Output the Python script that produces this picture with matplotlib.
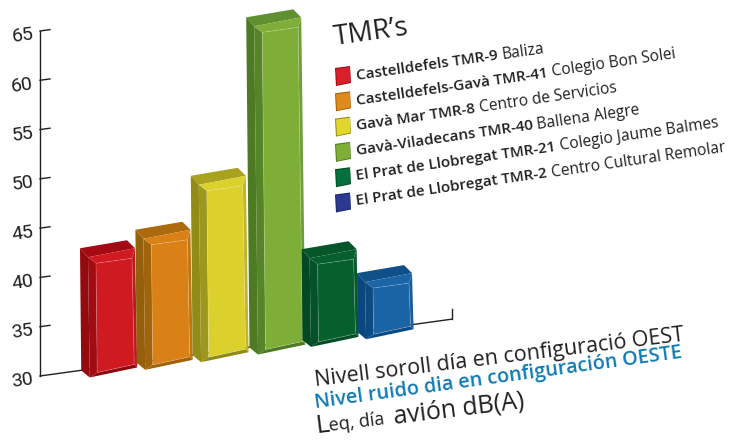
import numpy as np
import matplotlib
matplotlib.use("Agg")
import matplotlib.pyplot as plt
from matplotlib.patches import Polygon
from matplotlib.transforms import Affine2D, IdentityTransform, ScaledTranslation

stations = ["Castelldefels TMR-9", "Castelldefels-Gavà TMR-41", "Gavà Mar TMR-8",
            "Gavà-Viladecans TMR-40", "El Prat de Llobregat TMR-21", "El Prat de Llobregat TMR-2"]
places = ["Baliza", "Colegio Bon Solei", "Centro de Servicios",
          "Ballena Alegre", "Colegio Jaume Balmes", "Centro Cultural Remolar"]
values = [42.4, 43.5, 48.2, 63.5, 39.2, 36.0]
yticks = [30, 35, 40, 45, 50, 55, 60, 65]

# top, left side, left bevel, right bevel, bottom bevel, face
bar_colors = [
    ("#a50a14", "#930a0f", "#a00c12", "#c0181f", "#8c0a0f", "#cf1a22"),
    ("#ad6a0c", "#95600c", "#a0650c", "#c0760f", "#a0620a", "#d98016"),
    ("#a8a21f", "#918c18", "#9c971f", "#bdb62a", "#8f8a18", "#dbd02c"),
    ("#5f9130", "#4d7a22", "#568428", "#6c9f34", "#4d7a22", "#7fae38"),
    ("#06562a", "#034a24", "#055228", "#055a2a", "#044c26", "#05602e"),
    ("#0f5089", "#0b467f", "#0c4a83", "#195d9b", "#0c4a83", "#1b64a6"),
]
swatch_colors = ["#d8202a", "#e08a1e", "#e2d62c", "#7fae38", "#04703c", "#2b3a90"]
swatch_edges = ["#960c12", "#a0620a", "#918c18", "#4d7a22", "#034a24", "#1c2768"]

FONT = "Open Sans"
W, H = 730, 441
fig = plt.figure(figsize=(W / 100, H / 100), dpi=100)
ax = fig.add_axes([40 / W, (H - 376) / H, 412 / W, 345 / H])
ax.patch.set_alpha(0)
ax.set_xlim(-40 / 55.4, 372 / 55.4)
ax.set_ylim(30, 65)
for s in ["top", "right", "bottom"]:
    ax.spines[s].set_visible(False)
ax.spines["left"].set_color("#231f20")
ax.spines["left"].set_linewidth(1.0)
ax.set_xticks([])
ax.set_yticks(yticks)
ax.tick_params(axis="y", length=0, pad=5, labelsize=14, labelcolor="#231f20", labelrotation=8)
for lab in ax.get_yticklabels():
    lab.set_family("Roboto")
    lab.set_rotation_mode("anchor")
    lab.set_transform(lab.get_transform() + ScaledTranslation(0, -1.5 / 100, fig.dpi_scale_trans))

# the whole chart floor rises to the right
skew = Affine2D().translate(-40, 0).skew(0, np.arctan(0.138)).translate(40, 0)
tr = ax.transData + skew
idt = IdentityTransform()

x0_tick = ax.get_xlim()[0]
for v in yticks[1:]:
    ax.plot([x0_tick, x0_tick + 10 / 55.4], [v, v], color="#231f20", lw=1.0, transform=tr, clip_on=False)
ax.plot([x0_tick, ax.get_xlim()[1]], [30, 30], color="#231f20", lw=1.0, transform=tr, clip_on=False, zorder=1)
px_end = tr.transform((ax.get_xlim()[1], 30))
ax.plot([px_end[0], px_end[0]], [px_end[1], px_end[1] + 10], color="#231f20", lw=1.0, transform=idt, clip_on=False)

def poly(points, color, z, edge="none", lw=0):
    ax.add_patch(Polygon(points, closed=True, facecolor=color, edgecolor=edge, linewidth=lw,
                         transform=idt, clip_on=False, zorder=z))

for i, v in enumerate(values):
    top, left, lbev, rbev, bbev, face = bar_colors[i]
    T = tr.transform((i, v))
    B = tr.transform((i, 30))
    B = B + ((T[1] - B[1]) * 0.01, 0)
    def t(dx, dy):
        return (T[0] + dx, T[1] - dy)
    def b(dx, dy):
        return (B[0] + dx, B[1] - dy)
    z = 2 + i
    hl = (1, 1, 1, 0.2)
    poly([t(0, 0), t(47, -8), t(55, 0), t(8, 9)], top, z)
    poly([t(0, 0), t(8, 9), b(8.5, 7), b(0, 0)], left, z)
    poly([t(8, 9), t(16, 15), b(16, 2), b(8.5, 7)], lbev, z)
    poly([t(55, 0), t(52, 10), b(53, -6), b(56, -3)], rbev, z)
    poly([b(8.5, 7), b(16, 2), b(53, -6), b(56, -3)], bbev, z)
    poly([t(8, 9), t(55, 0), t(52, 10), t(16, 15)], face, z)
    poly([t(16, 15), t(52, 10), b(53, -6), b(16, 2)], face, z)
    poly([t(16, 15), t(52, 10), b(53, -6), b(16, 2)], "none", z, edge=hl, lw=0.6)

renderer = fig.canvas.get_renderer()

def runs(x, y, angle, parts):
    # parts of differing weight/size laid out along one slanted baseline
    a = np.radians(angle)
    d = 0.0
    for s, size, weight, color, dy in parts:
        tx = x + d * np.cos(a)
        ty = y - d * np.sin(a) + dy
        fig.text(tx / W, (H - ty) / H, s, fontsize=size, fontweight=weight, color=color, family=FONT,
                 rotation=angle, rotation_mode="anchor", ha="left", va="baseline")
        probe = fig.text(0, 0, s + "|", fontsize=size, fontweight=weight, family=FONT)
        bar_w = fig.text(0, 0, "|", fontsize=size, fontweight=weight, family=FONT)
        d += probe.get_window_extent(renderer).width - bar_w.get_window_extent(renderer).width
        probe.remove()
        bar_w.remove()

dark = "#231f20"
runs(335, 45, 8, [("TMR’s", 20, "normal", dark, 0)])

for i, (st, pl) in enumerate(zip(stations, places)):
    ty = 80 + i * 25
    runs(357, ty, 8.3, [(st + " ", 11, "semibold", dark, 0), (pl, 11.2, "normal", dark, 0)])
    # legend swatch
    sy = 68 + i * 25.3
    sq = [(335, H - sy), (350, H - sy + 2), (351, H - sy - 15), (336, H - sy - 18)]
    poly(sq, swatch_edges[i], 2)
    sq2 = [(336, H - sy - 1), (350, H - sy + 1), (350.5, H - sy - 14), (337, H - sy - 17)]
    poly(sq2, swatch_colors[i], 3)

runs(315, 386, 7, [("Nivell soroll día en configuració OEST", 15.5, "normal", dark, 0)])
runs(315, 408, 7.8, [("Nivel ruido dia en configuración OESTE", 14.3, "semibold", "#0f7ab5", 0)])
runs(316, 433, 7, [("L", 19, "normal", dark, 0), ("eq, día  ", 13, "normal", dark, 0),
                   ("avión dB(A)", 18, "normal", dark, 0)])

fig.savefig("out.png", dpi=100)
